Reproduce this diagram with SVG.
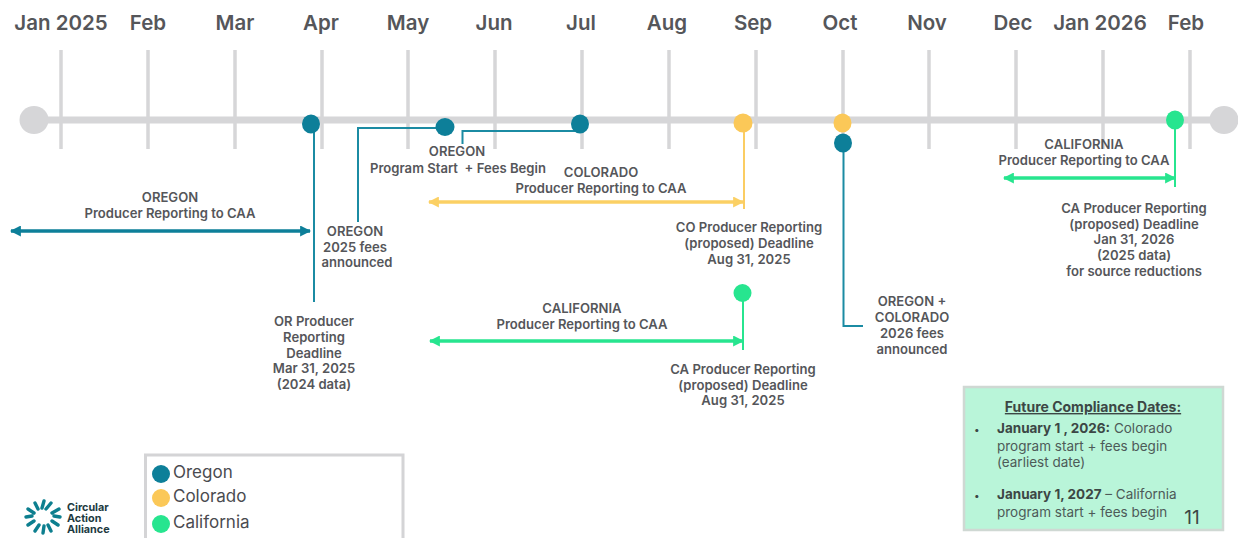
<svg xmlns="http://www.w3.org/2000/svg" width="1238" height="538" viewBox="0 0 1238 538">
<style>
text{font-family:"Inter","Liberation Sans",sans-serif;fill:#55565a}
.m{font-size:20.500px;font-weight:600;text-anchor:middle}
.l{font-size:13.100px;font-weight:600;text-anchor:middle}
.lg{font-size:17px;fill:#4a4b50}
.f{font-size:13.500px;fill:#4d5a58}
.d{font-size:10px;fill:#3c4745}
.b{font-weight:700;fill:#3c4745}
.grid{stroke:#d6d6d8;stroke-width:3.500;fill:none}
.c{fill:none;stroke-width:2}
.or{stroke:#1b8ba3;fill:none}
.co{stroke:#fbcd63;fill:none}
.ca{stroke:#27e58f;fill:none}
.logo{font-size:10.800px;font-weight:700;fill:#1d3a3f}
</style>
<defs>
<marker id="at" viewBox="0 0 10 10" refX="9" refY="5" markerWidth="11" markerHeight="11" markerUnits="userSpaceOnUse" orient="auto-start-reverse"><path d="M0 0L10 5L0 10Z" fill="#0d7f99"/></marker>
<marker id="ay" viewBox="0 0 10 10" refX="9" refY="5" markerWidth="11" markerHeight="11" markerUnits="userSpaceOnUse" orient="auto-start-reverse"><path d="M0 0L10 5L0 10Z" fill="#fbd064"/></marker>
<marker id="ag" viewBox="0 0 10 10" refX="9" refY="5" markerWidth="11" markerHeight="11" markerUnits="userSpaceOnUse" orient="auto-start-reverse"><path d="M0 0L10 5L0 10Z" fill="#27e58f"/></marker>
</defs>
<rect width="1238" height="538" fill="#fff"/>
<g id="axis">
<path class="grid" d="M61 50V149M148 50V149M235 50V149M322 50V149M408 50V149M495 50V149M582 50V149M669 50V149M756 50V149M843 50V149M929 50V149M1016 50V149M1103 50V149M1190 50V149"/>
<path d="M34 120H1224" stroke="#d6d6d8" stroke-width="7"/>
<ellipse cx="34" cy="120" rx="14.500" ry="14" fill="#d6d6d8"/>
<ellipse cx="1224" cy="120" rx="14.500" ry="14" fill="#d6d6d8"/>
</g>
<g id="months">
<text class="m" x="61" y="29.500">Jan 2025</text><text class="m" x="148" y="29.500">Feb</text><text class="m" x="235" y="29.500">Mar</text><text class="m" x="321" y="29.500">Apr</text><text class="m" x="408" y="29.500">May</text><text class="m" x="494" y="29.500">Jun</text><text class="m" x="581" y="29.500">Jul</text><text class="m" x="667" y="29.500">Aug</text><text class="m" x="753" y="29.500">Sep</text><text class="m" x="840" y="29.500">Oct</text><text class="m" x="927" y="29.500">Nov</text><text class="m" x="1013" y="29.500">Dec</text><text class="m" x="1100" y="29.500">Jan 2026</text><text class="m" x="1186" y="29.500">Feb</text>
</g>
<g id="connectors">
<path class="c or" d="M314 124V302"/>
<path class="c or" d="M358 222V128H445"/>
<path class="c or" d="M462.500 144V131H580"/>
<path class="c co" d="M744 123V209"/>
<path class="c or" d="M843.500 143V326H863"/>
<path class="c ca" d="M1175 120V187"/>
<path class="c ca" d="M743 293V350"/>
<path d="M11 231H310" stroke="#0d7f99" stroke-width="3.500" marker-start="url(#at)" marker-end="url(#at)"/>
<path d="M429 202H743" stroke="#fbd064" stroke-width="3.500" marker-start="url(#ay)" marker-end="url(#ay)"/>
<path d="M430 341H743" stroke="#27e58f" stroke-width="3.500" marker-start="url(#ag)" marker-end="url(#ag)"/>
<path d="M1004 178H1175" stroke="#27e58f" stroke-width="3.500" marker-start="url(#ag)" marker-end="url(#ag)"/>
</g>
<g id="node-or-apr"><ellipse cx="311" cy="124" rx="9" ry="9.500" fill="#0d7f99"/></g>
<g id="node-or-may"><ellipse cx="445" cy="127" rx="9.500" ry="9" fill="#0d7f99"/></g>
<g id="node-or-jul"><ellipse cx="580" cy="124" rx="9" ry="9.500" fill="#0d7f99"/></g>
<g id="node-co-sep"><ellipse cx="743" cy="123" rx="9.500" ry="9.500" fill="#fbc858"/></g>
<g id="node-co-oct"><ellipse cx="842.500" cy="123" rx="9" ry="9.500" fill="#fbc858"/></g>
<g id="node-or-oct"><ellipse cx="843" cy="143" rx="9" ry="9.500" fill="#0d7f99"/></g>
<g id="node-ca-feb"><ellipse cx="1175" cy="120" rx="9" ry="9.500" fill="#27e58f"/></g>
<g id="node-ca-aug"><ellipse cx="742.500" cy="293" rx="9" ry="9" fill="#27e58f"/></g>
<g id="labels">
<text class="l" x="170" y="202">OREGON</text><text class="l" x="170" y="218">Producer Reporting to CAA</text>
<text class="l" x="355" y="236">OREGON</text><text class="l" x="355" y="252">2025 fees</text><text class="l" x="357" y="267">announced</text>
<text class="l" x="457" y="156">OREGON</text><text class="l" x="458" y="172.500" xml:space="preserve">Program Start  + Fees Begin</text>
<text class="l" x="601" y="177">COLORADO</text><text class="l" x="601" y="193">Producer Reporting to CAA</text>
<text class="l" x="749" y="232">CO Producer Reporting</text><text class="l" x="749" y="248">(proposed) Deadline</text><text class="l" x="749" y="264">Aug 31, 2025</text>
<text class="l" x="314" y="326">OR Producer</text><text class="l" x="314" y="342">Reporting</text><text class="l" x="314" y="358">Deadline</text><text class="l" x="314" y="373">Mar 31, 2025</text><text class="l" x="314" y="389">(2024 data)</text>
<text class="l" x="582" y="313">CALIFORNIA</text><text class="l" x="582" y="329">Producer Reporting to CAA</text>
<text class="l" x="743" y="374">CA Producer Reporting</text><text class="l" x="743" y="390">(proposed) Deadline</text><text class="l" x="743" y="405">Aug 31, 2025</text>
<text class="l" x="912" y="306">OREGON +</text><text class="l" x="912" y="322">COLORADO</text><text class="l" x="912" y="338">2026 fees</text><text class="l" x="912" y="354">announced</text>
<text class="l" x="1084" y="149">CALIFORNIA</text><text class="l" x="1084" y="165">Producer Reporting to CAA</text>
<text class="l" x="1134" y="213">CA Producer Reporting</text><text class="l" x="1134" y="229">(proposed) Deadline</text><text class="l" x="1134" y="244">Jan 31, 2026</text><text class="l" x="1134" y="260">(2025 data)</text><text class="l" x="1134" y="276">for source reductions</text>
</g>
<g id="legend">
<path d="M145.500 538V455H403V538" fill="none" stroke="#d4d4d6" stroke-width="3"/>
<circle cx="161" cy="474" r="9" fill="#0d7f99"/><circle cx="161" cy="498" r="9" fill="#fbc858"/><circle cx="161" cy="524" r="9" fill="#27e58f"/>
<text class="lg" x="173" y="478">Oregon</text><text class="lg" x="173" y="502">Colorado</text><text class="lg" x="173" y="528">California</text>
</g>
<g id="logo">
<g stroke="#0d7f8f" stroke-width="3.400" stroke-linecap="round" fill="none">
<path d="M44 501L42 508M51 503L46 509M59 509L52 513M60 517L54 516M58 525L52 521M51 531L48 525M43 533L44 526M35 531L39 525M28 525L34 521M26 517L32 516M28 509L34 513M35 503L38 509"/>
</g>
<text class="logo" x="67" y="511">Circular</text><text class="logo" x="67" y="522">Action</text><text class="logo" x="67" y="533">Alliance</text>
</g>
<g id="future-box">
<rect x="964" y="387" width="259" height="143" fill="#b9f5d9" stroke="#cfd8d3" stroke-width="2.500"/>
<text x="1093" y="412" text-anchor="middle" text-decoration="underline" style="font-size:14px;font-weight:700;fill:#3c4745">Future Compliance Dates:</text>
<text class="d" x="974" y="433">•</text>
<text class="f" x="997" y="433"><tspan class="b">January 1 , 2026:</tspan> Colorado</text>
<text class="f" x="997" y="451">program start + fees begin</text>
<text class="f" x="997" y="467">(earliest date)</text>
<text class="d" x="974" y="499">•</text>
<text class="f" x="997" y="499"><tspan class="b">January 1, 2027</tspan> – California</text>
<text class="f" x="997" y="517">program start + fees begin</text>
<text x="1192" y="524" text-anchor="middle" style="font-size:19px;fill:#3c4745">11</text>
</g>
</svg>
